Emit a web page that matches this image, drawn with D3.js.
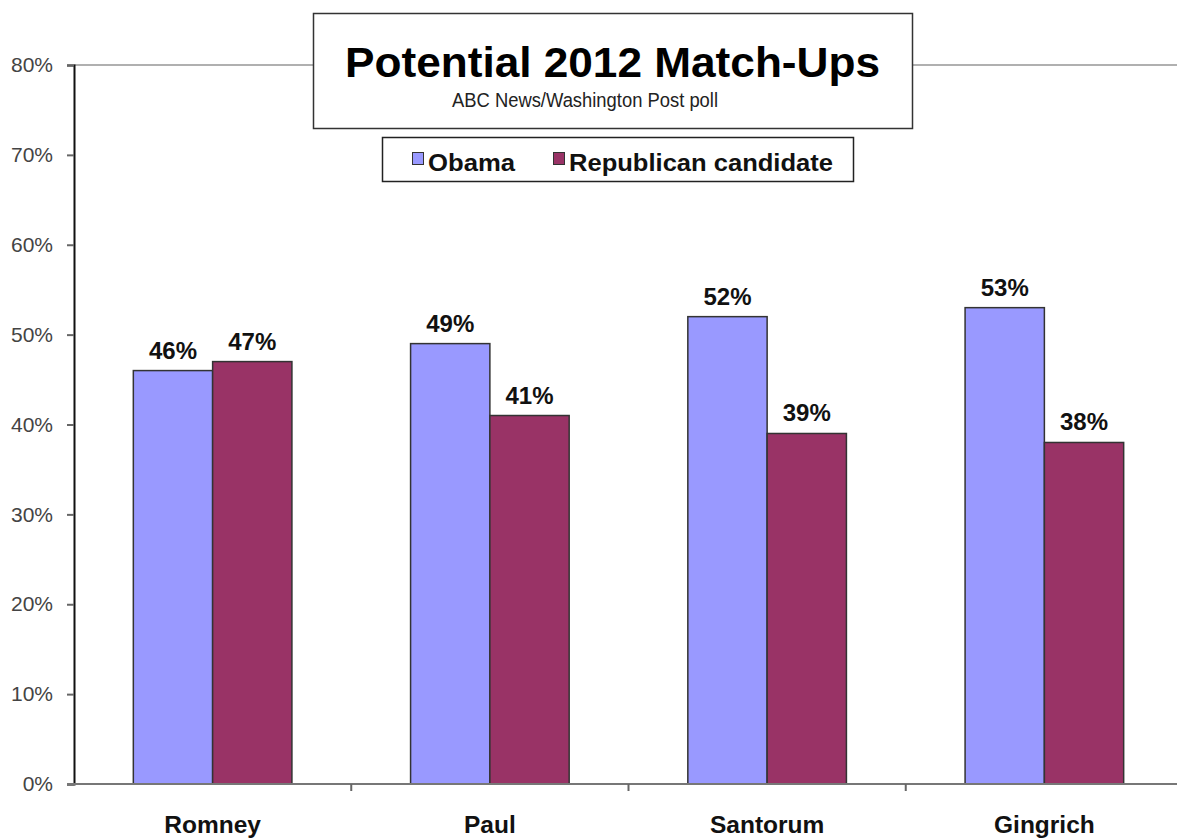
<!DOCTYPE html>
<html><head><meta charset="utf-8">
<script src="https://cdn.jsdelivr.net/npm/d3@7"></script>
<style>body{margin:0;background:#fff}svg{display:block}text{font-family:"Liberation Sans",Arial,sans-serif}</style>
</head><body><svg id="c" width="1177" height="838"></svg>
<script>
const categories = ["Romney","Paul","Santorum","Gingrich"];
const seriesNames = ["Obama","Republican candidate"];
const obama = [46,49,52,53];
const republican = [47,41,39,38];
const yTicks = [0,10,20,30,40,50,60,70,80];
const colors = ["#9999FF","#993366"];

const svg = d3.select("#c");
const plotLeft = 74, plotRight = 1183, plotTop = 65, plotBottom = 784;
const x = d3.scaleBand().domain(categories).range([plotLeft,plotRight]).padding(0);
const bw = x.bandwidth();
const x1 = d3.scaleBand().domain(seriesNames).range([bw*0.214, bw*0.786]).padding(0);
const y = d3.scaleLinear().domain([0,80]).range([plotBottom,plotTop]);

// top gridline at 80%
svg.append("line").attr("x1",plotLeft).attr("x2",1177).attr("y1",y(80)).attr("y2",y(80)).attr("stroke","#b0b0b0").attr("stroke-width",2);

// y axis
const ya = svg.append("g").attr("transform",`translate(${plotLeft},0)`).call(d3.axisLeft(y).tickValues(yTicks).tickFormat(d=>d+"%").tickSize(7).tickPadding(14));
ya.select(".domain").attr("stroke","#111").attr("stroke-width",2);
ya.selectAll(".tick line").attr("stroke","#666").attr("stroke-width",2);
ya.selectAll(".tick text").attr("font-size",21).attr("fill","#444").attr("font-family","Liberation Sans, Arial, sans-serif");

// bars
const data = categories.map((c,i)=>({c, vals:[obama[i],republican[i]]}));
const g = svg.selectAll(".grp").data(data).join("g").attr("class","grp").attr("transform",d=>`translate(${x(d.c)},0)`);
g.selectAll("rect").data(d=>d.vals.map((v,j)=>({s:seriesNames[j],v,j}))).join("rect")
 .attr("x",d=>x1(d.s)).attr("width",x1.bandwidth()).attr("y",d=>y(d.v)).attr("height",d=>plotBottom-y(d.v))
 .attr("fill",d=>colors[d.j]).attr("stroke","#333").attr("stroke-width",1.5);
g.selectAll("text.val").data(d=>d.vals.map((v,j)=>({s:seriesNames[j],v,j}))).join("text").attr("class","val")
 .attr("x",d=>x1(d.s)+x1.bandwidth()/2).attr("y",d=>y(d.v)-12).attr("text-anchor","middle")
 .attr("font-size",24).attr("font-weight","bold").attr("fill","#111").text(d=>d.v+"%");

// x axis
const xa = svg.append("g").attr("transform",`translate(0,${plotBottom})`).call(d3.axisBottom(x).tickSize(0).tickPadding(0));
xa.select(".domain").remove();
svg.append("line").attr("x1",plotLeft-7).attr("x2",1177).attr("y1",plotBottom).attr("y2",plotBottom).attr("stroke","#777").attr("stroke-width",2);
xa.selectAll(".tick text").attr("y",49).attr("dy",0).attr("font-size",24.5).attr("font-weight","bold").attr("fill","#111").attr("font-family","Liberation Sans, Arial, sans-serif");
// category separator ticks
svg.selectAll("line.sep").data(categories.slice(1)).join("line").attr("class","sep")
 .attr("x1",d=>x(d)).attr("x2",d=>x(d)).attr("y1",plotBottom).attr("y2",plotBottom+7).attr("stroke","#666").attr("stroke-width",2);

// title box
svg.append("rect").attr("x",313.5).attr("y",13.5).attr("width",599).attr("height",115).attr("fill","#fff").attr("stroke","#333").attr("stroke-width",1.5);
svg.append("text").attr("x",612.5).attr("y",77).attr("text-anchor","middle").attr("font-size",43).attr("font-weight","bold").attr("fill","#000")
  .attr("textLength",535).attr("lengthAdjust","spacingAndGlyphs").text("Potential 2012 Match-Ups");
svg.append("text").attr("x",585).attr("y",107).attr("text-anchor","middle").attr("font-size",20.5).attr("fill","#222")
  .attr("textLength",266).attr("lengthAdjust","spacingAndGlyphs").text("ABC News/Washington Post poll");

// legend box
svg.append("rect").attr("x",382.5).attr("y",137.5).attr("width",471).attr("height",44).attr("fill","#fff").attr("stroke","#222").attr("stroke-width",1.5);
const legItems = [{n:seriesNames[0],x:412,w:87},{n:seriesNames[1],x:553,w:264}];
legItems.forEach((d,i)=>{
  svg.append("rect").attr("x",d.x+0.5).attr("y",152.5).attr("width",11).attr("height",12).attr("fill",colors[i]).attr("stroke","#333").attr("stroke-width",1);
  svg.append("text").attr("x",d.x+16).attr("y",171).attr("font-size",24).attr("font-weight","bold").attr("fill","#111")
    .attr("textLength",d.w).attr("lengthAdjust","spacingAndGlyphs").text(d.n);
});
</script></body></html>
